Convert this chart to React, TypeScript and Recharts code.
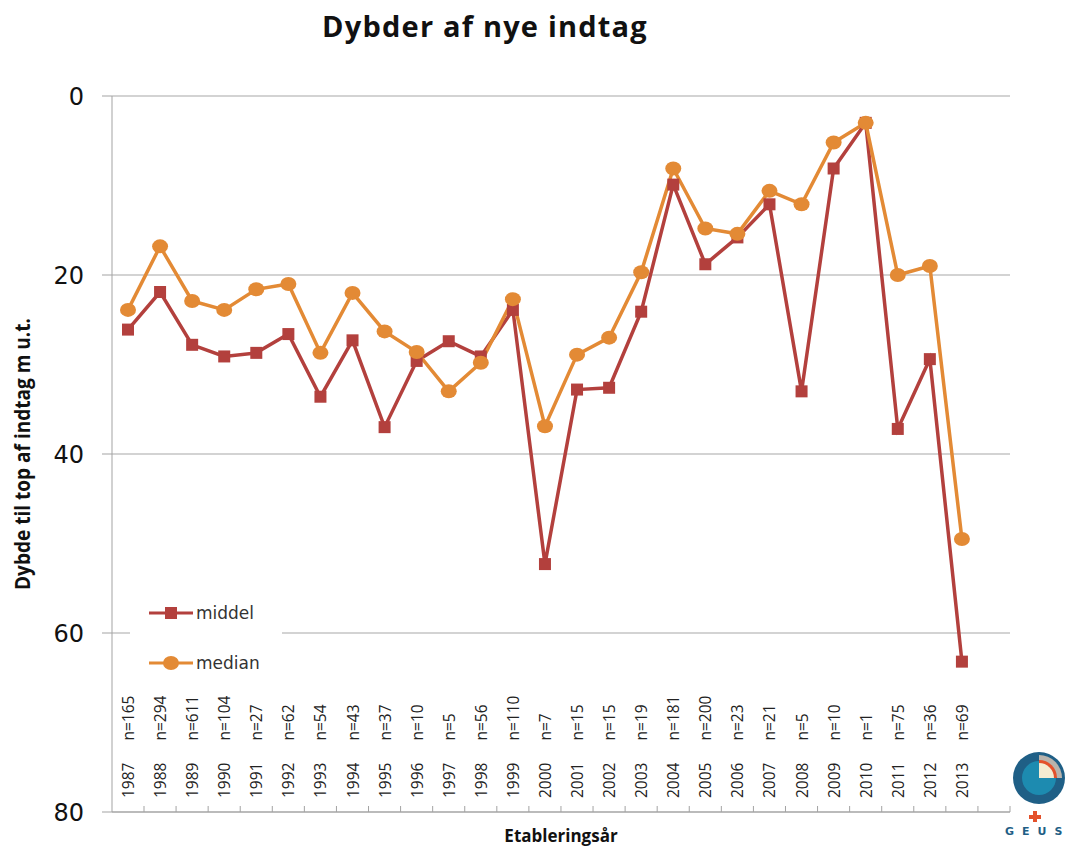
import React from 'react';
import { LineChart, Line, XAxis, YAxis, CartesianGrid, Legend } from 'recharts';

// Dybder af nye indtag, 1987-2013 (GEUS)

const years = ['1987', '1988', '1989', '1990', '1991', '1992', '1993', '1994', '1995', '1996', '1997', '1998', '1999', '2000',
    '2001', '2002', '2003', '2004', '2005', '2006', '2007', '2008', '2009', '2010', '2011', '2012', '2013', ''];

const counts = ['165', '294', '611', '104', '27', '62', '54', '43', '37', '10', '5', '56', '110', '7',
    '15', '15', '19', '181', '200', '23', '21', '5', '10', '1', '75', '36', '69', ''];

const middel = [26.1, 21.9, 27.8, 29.1, 28.7, 26.6, 33.6, 27.3, 37.0, 29.6, 27.4, 29.1, 23.9, 52.3,
    32.8, 32.6, 24.1, 9.9, 18.8, 15.8, 12.1, 33.0, 8.1, 3.0, 37.2, 29.4, 63.2, null];

const median = [23.9, 16.8, 22.9, 23.9, 21.6, 21.0, 28.7, 22.0, 26.3, 28.6, 33.0, 29.8, 22.7, 36.9,
    28.9, 27.0, 19.7, 8.1, 14.8, 15.4, 10.6, 12.1, 5.2, 3.0, 20.0, 19.0, 49.5, null];

const yTicks = [0, 20, 40, 60, 80];
const legendOrder = ['middel', 'median'];

const data = years.map((year, i) => ({
    year,
    n: counts[i],
    middel: middel[i],
    median: median[i],
}));

const RED = '#B3403D';
const ORANGE = '#E38A35';
const AXIS = '#a3a3a3';
const HALF_BAND = 16;

const SquareDot = (props: any) => {
    const { cx, cy, value } = props;
    if (value == null || cx == null) return null;
    return <rect x={cx - 6} y={cy - 6} width={12} height={12} fill={RED} />;
};

const RoundDot = (props: any) => {
    const { cx, cy, value } = props;
    if (value == null || cx == null) return null;
    return <ellipse cx={cx} cy={cy} rx={8} ry={7} fill={ORANGE} />;
};

const YearTick = (props: any) => {
    const { x, y, index } = props;
    const yr = years[index];
    const by = y - 14;
    return (
        <g>
            <line x1={x + HALF_BAND} x2={x + HALF_BAND} y1={y - 6} y2={y} stroke={AXIS} />
            {yr && (
                <text
                    x={x}
                    y={by}
                    transform={`rotate(-90, ${x}, ${by})`}
                    textAnchor="start"
                    dominantBaseline="central"
                    fontFamily="'Open Sans', sans-serif"
                    fontSize={15.5}
                    fill="#222"
                >
                    <tspan>{yr}</tspan>
                    <tspan dx={22}>{'n=' + counts[index]}</tspan>
                </text>
            )}
        </g>
    );
};

const YLabel = (props: any) => {
    const vb = props.viewBox || { x: 0, y: 96, width: 112, height: 716 };
    const cx = vb.x + 22;
    const cy = vb.y + vb.height / 2;
    return (
        <text
            x={cx}
            y={cy}
            transform={`rotate(-90, ${cx}, ${cy})`}
            textAnchor="middle"
            dominantBaseline="central"
            textLength={272}
            lengthAdjust="spacingAndGlyphs"
            fontFamily="'Open Sans', sans-serif"
            fontWeight={700}
            fontSize={21}
            fill="#111"
        >
            Dybde til top af indtag m u.t.
        </text>
    );
};

const LegendBox = (props: any) => {
    const items = [...(props.payload || [])].sort(
        (a: any, b: any) => legendOrder.indexOf(a.value) - legendOrder.indexOf(b.value)
    );
    return (
        <div style={{ background: '#fff', width: 152, height: 100, position: 'relative' }}>
            {items.map((item: any, i: number) => (
                <div key={item.value} style={{ position: 'absolute', left: 18, top: 10 + i * 50, height: 30, display: 'flex', alignItems: 'center' }}>
                    <svg width={46} height={30}>
                        <line x1={1} x2={45} y1={15} y2={15} stroke={item.color} strokeWidth={3} />
                        {item.value === 'middel'
                            ? <rect x={17} y={9} width={12} height={12} fill={item.color} />
                            : <ellipse cx={23} cy={15} rx={8} ry={7} fill={item.color} />}
                    </svg>
                    <span style={{ fontFamily: "'DejaVu Sans', Verdana, sans-serif", fontSize: 17, color: '#333', marginLeft: 2 }}>
                        {item.value}
                    </span>
                </div>
            ))}
        </div>
    );
};

const GeusLogo = () => (
    <svg width={75} height={105} style={{ position: 'absolute', left: 995, top: 745 }}>
        <circle cx={44} cy={33} r={26} fill="#1f5f86" />
        <circle cx={44} cy={33} r={17} fill="#1d8bb0" />
        <path d="M44 33 L44 10 A23 23 0 0 1 67 33 Z" fill="#b9b3ac" />
        <path d="M44 33 L44 15 A18 18 0 0 1 62 33 Z" fill="#e4512b" />
        <path d="M44 33 L44 18 A15 15 0 0 1 59 33 Z" fill="#f4ecd2" />
        <path d="M34 70 L38 70 L38 66 L42 66 L42 70 L46 70 L46 74 L42 74 L42 77 L38 77 L38 74 L34 74 Z" fill="#e4512b" />
        <text x={10} y={90} fontFamily="'DejaVu Sans', sans-serif" fontWeight="bold" fontSize={11} fill="#1f5f86" letterSpacing={8}>GEUS</text>
    </svg>
);

const App = () => {
    return (
        <div style={{ position: 'relative', width: 1070, height: 850, overflow: 'hidden', background: '#fff' }}>
            <style>{'html, body { margin: 0; padding: 0; overflow: hidden; }'}</style>
            <div
                style={{
                    position: 'absolute', left: 0, top: 8, width: 970, textAlign: 'center',
                    fontFamily: "'Open Sans', sans-serif", fontWeight: 700, fontSize: 29, letterSpacing: 1.2,
                    lineHeight: '36px', color: '#111',
                }}
            >
                Dybder af nye indtag
            </div>
            <LineChart width={1070} height={850} data={data} margin={{ top: 96, right: 60, bottom: 0, left: 0 }}>
                <CartesianGrid vertical={false} stroke="#c4c4c4" strokeWidth={1.5} />
                <XAxis
                    dataKey="year"
                    height={38}
                    interval={0}
                    padding={{ left: HALF_BAND, right: HALF_BAND }}
                    tickLine={false}
                    tickSize={0}
                    tickMargin={0}
                    tick={<YearTick />}
                    axisLine={{ stroke: AXIS }}
                />
                <YAxis
                    width={112}
                    reversed
                    domain={[0, 80]}
                    ticks={yTicks}
                    tickSize={10}
                    tickMargin={18}
                    tickLine={{ stroke: AXIS }}
                    axisLine={{ stroke: AXIS }}
                    tick={{ fontFamily: "'DejaVu Sans', Verdana, sans-serif", fontSize: 24, fill: '#111' }}
                    label={<YLabel />}
                />
                <Legend
                    layout="vertical"
                    align="center"
                    verticalAlign="middle"
                    content={<LegendBox />}
                    wrapperStyle={{ position: 'absolute', left: 130, top: 588, width: 152, height: 100 }}
                />
                <Line
                    dataKey="middel"
                    name="middel"
                    stroke={RED}
                    strokeWidth={3.5}
                    dot={<SquareDot />}
                    activeDot={false}
                    isAnimationActive={false}
                />
                <Line
                    dataKey="median"
                    name="median"
                    stroke={ORANGE}
                    strokeWidth={3.5}
                    dot={<RoundDot />}
                    activeDot={false}
                    isAnimationActive={false}
                />
            </LineChart>
            <div
                style={{
                    position: 'absolute', left: 461, top: 824, width: 200, textAlign: 'center',
                    fontFamily: "'Open Sans', sans-serif", fontWeight: 700, fontSize: 17, lineHeight: '24px', color: '#111',
                }}
            >
                Etableringsår
            </div>
            <GeusLogo />
        </div>
    );
};

export default App;
